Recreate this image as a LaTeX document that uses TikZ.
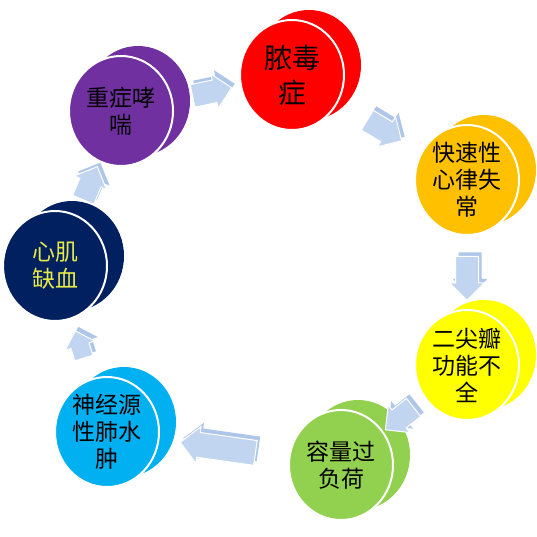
\documentclass[tikz,border=0pt]{standalone}
\usepackage{fontspec}
\newfontfamily\cjk{Noto Sans CJK SC}
\usetikzlibrary{positioning,shapes,arrows}

\definecolor{sepsisred}{RGB}{255,0,0}
\definecolor{rhythmorange}{RGB}{255,192,0}
\definecolor{valveyellow}{RGB}{255,255,0}
\definecolor{volumegreen}{RGB}{146,208,80}
\definecolor{edemablue}{RGB}{0,176,240}
\definecolor{ischemianavy}{RGB}{0,32,96}
\definecolor{asthmaviolet}{RGB}{112,48,160}
\definecolor{labelyellow}{RGB}{232,234,72}
\definecolor{flowblue}{RGB}{194,213,240}
\definecolor{flowside}{RGB}{174,198,234}

\begin{document}
\begin{tikzpicture}[x=1pt, y=-1pt]
    \tikzstyle{coin} = [ellipse, fill=#1, draw=white, line width=2pt, minimum width=104pt, minimum height=110pt, inner sep=0pt, align=center, font=\cjk\fontsize{23}{27}\selectfont, preaction={fill=#1, transform canvas={xshift=17pt, yshift=10pt}}]
    \tikzstyle{flow} = [single arrow, fill=flowblue, draw=white, line width=1pt, inner sep=11pt, single arrow head extend=6pt, minimum height=40pt, sloped, allow upside down, preaction={fill=flowside, transform canvas={xshift=3pt, yshift=4pt}}]

    \useasboundingbox (0,0) rectangle (537,537);

    % Severe asthma coin
    \node[coin=asthmaviolet] (asthma) at (121,111) {重症哮\\喘};

    % Sepsis coin
    \node[coin=sepsisred, font=\cjk\fontsize{28}{35}\selectfont] (sepsis) at (292,75) {脓毒\\症};

    % Tachyarrhythmia coin
    \node[coin=rhythmorange] (rhythm) at (467,180) {快速性\\心律失\\常};

    % Mitral valve coin
    \node[coin=valveyellow] (valve) at (467,365) {二尖瓣\\功能不\\全};

    % Volume overload coin
    \node[coin=volumegreen] (volume) at (341,465) {容量过\\负荷};

    % Neurogenic edema coin
    \node[coin=edemablue] (edema) at (107,432) {神经源\\性肺水\\肿};

    % Myocardial ischemia coin
    \node[coin=ischemianavy, text=labelyellow] (ischemia) at (55,266) {心肌\\缺血};

    % Block arrows round the cycle
    \path (asthma) -- node[flow] {} (sepsis);
    \path (sepsis) -- node[flow] {} (rhythm);
    \path (rhythm) -- node[flow, minimum height=44pt] {} (valve);
    \path (valve) -- node[flow, minimum height=36pt] {} (volume);
    \path (volume) -- node[flow, minimum height=76pt, inner sep=12pt] {} (edema);
    \path (edema) -- node[flow, minimum height=28pt, inner sep=9pt] {} (ischemia);
    \path (ischemia) -- node[flow, minimum height=36pt] {} (asthma);

\end{tikzpicture}
\end{document}
